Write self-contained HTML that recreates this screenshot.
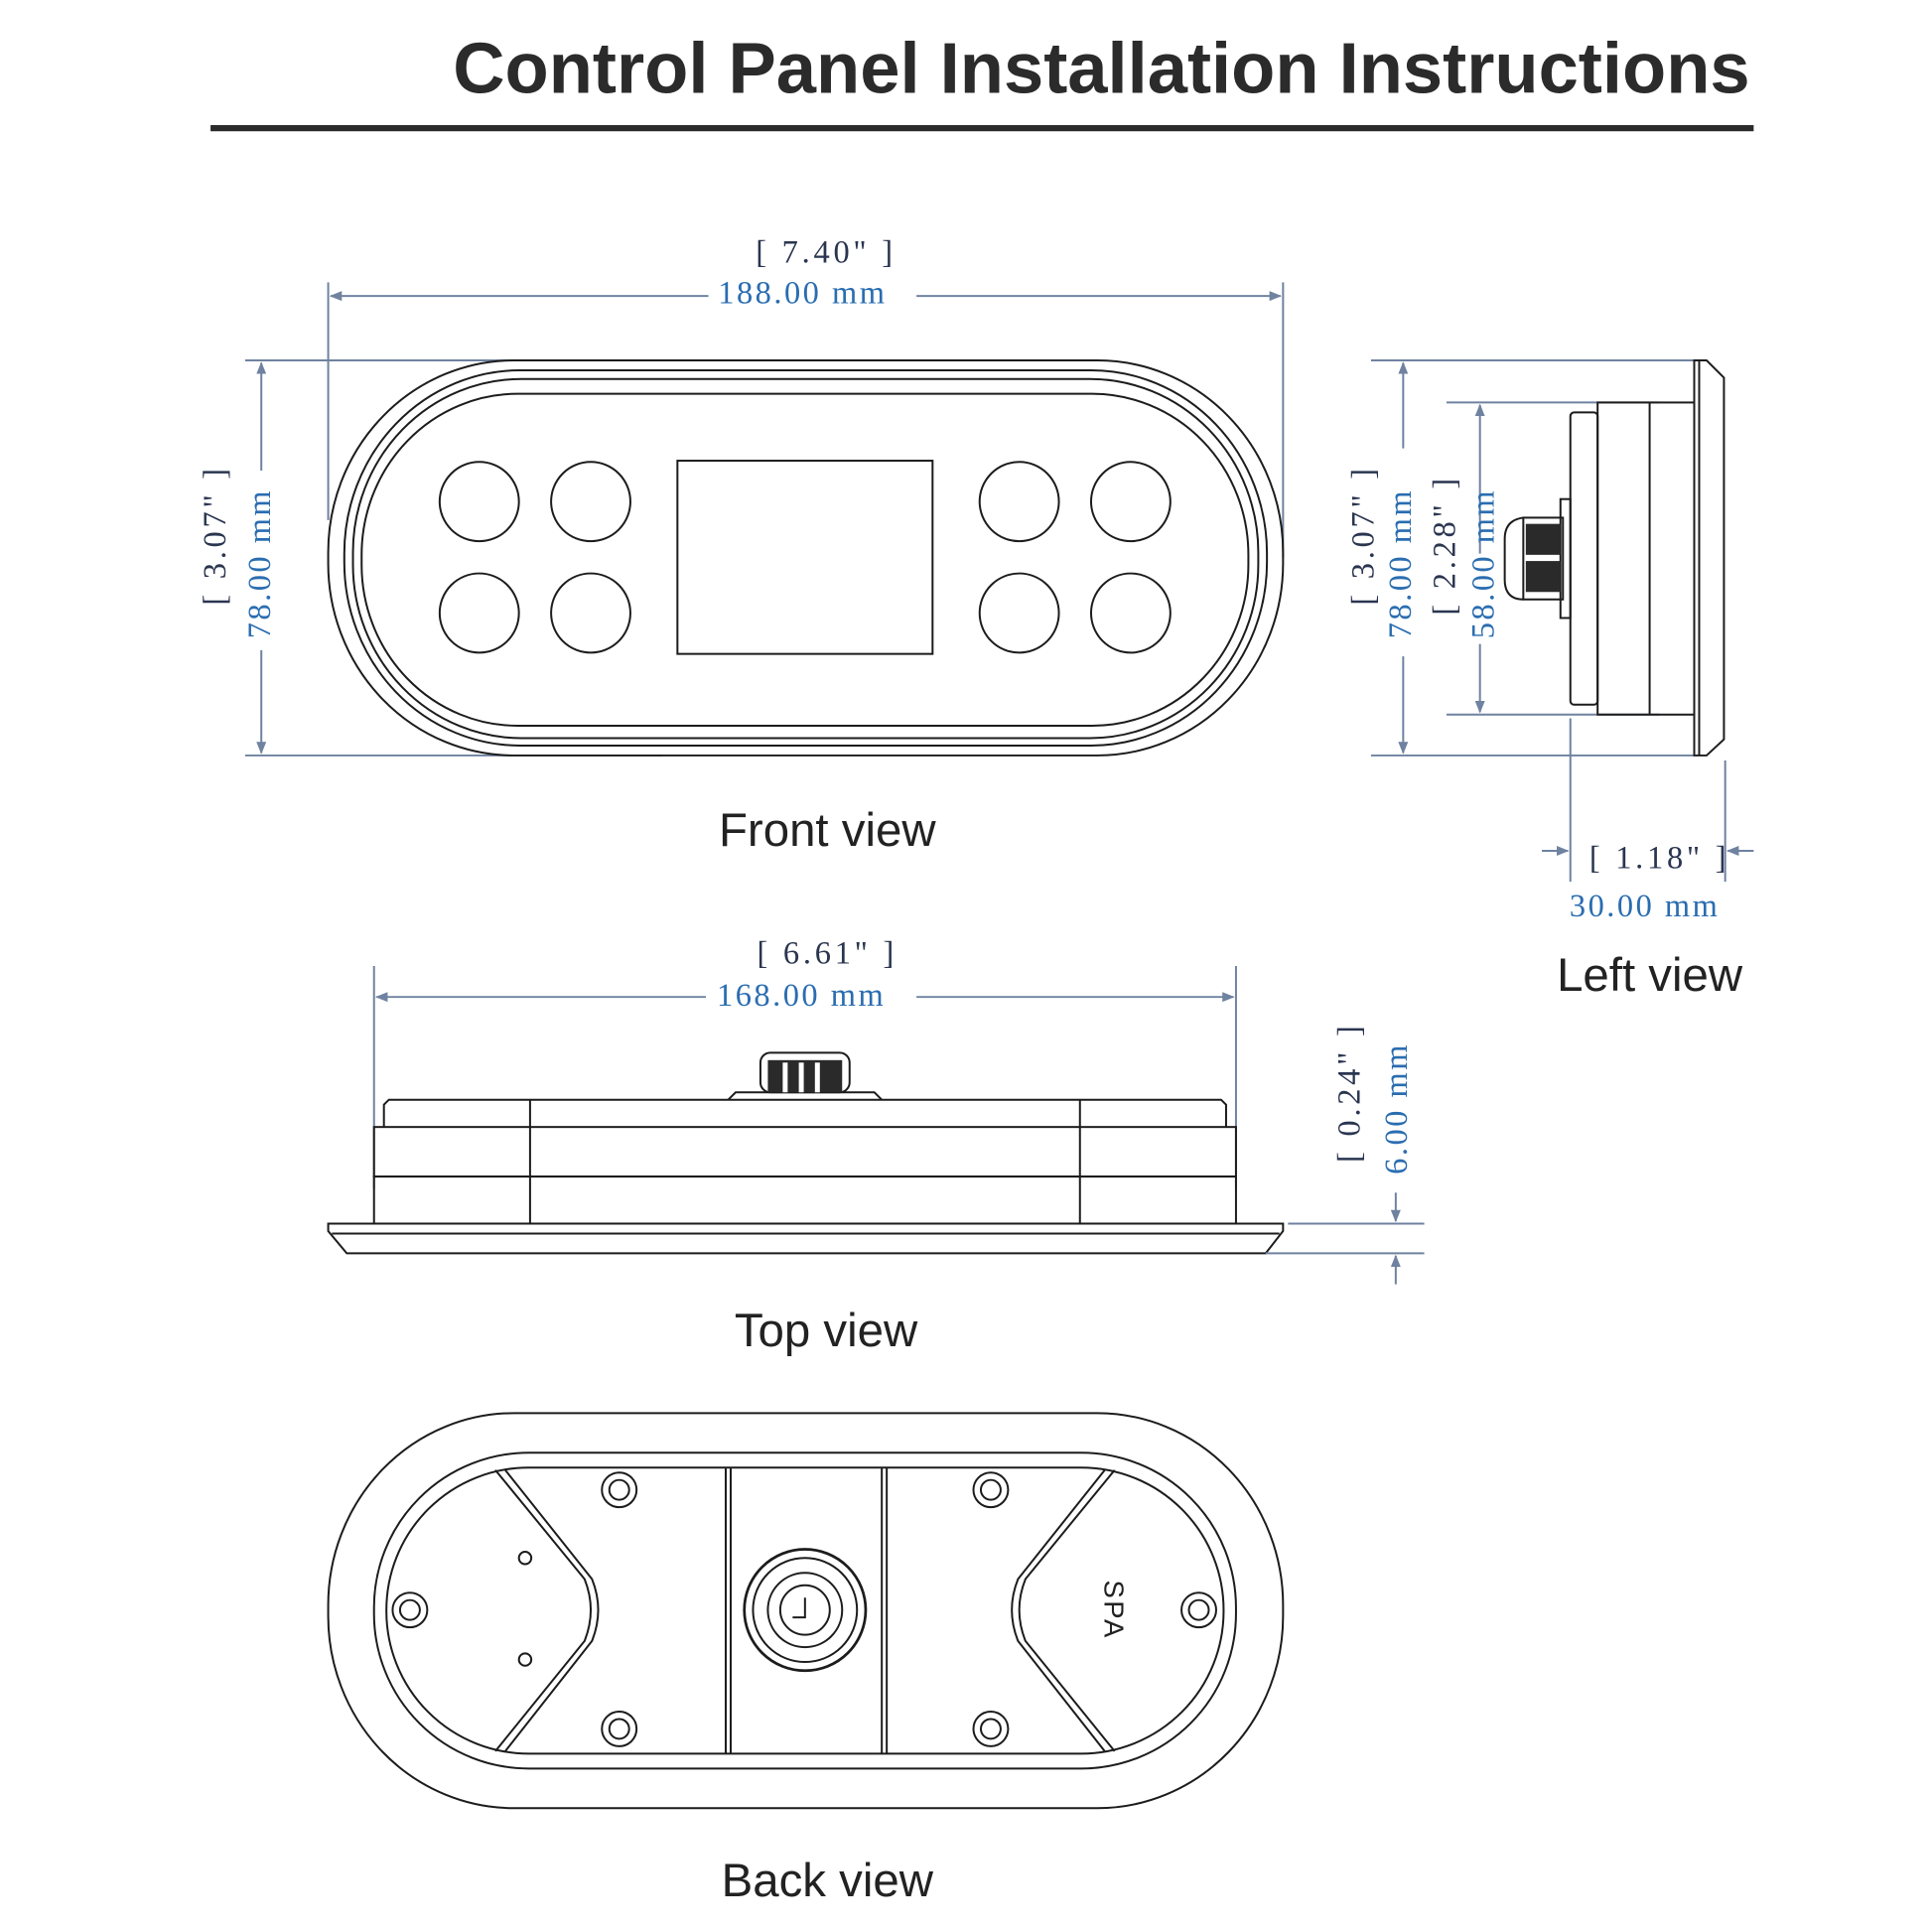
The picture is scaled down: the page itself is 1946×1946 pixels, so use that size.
<!DOCTYPE html>
<html><head><meta charset="utf-8"><style>
html,body{margin:0;padding:0;background:#fff}
svg{display:block}
.d{stroke:#6f82a0;stroke-width:1.6;fill:none}
.k{stroke:#1c1c1c;stroke-width:1.6;fill:none}
.t{font-family:"Liberation Serif",serif;font-size:26px;fill:#2a3550;letter-spacing:3px}
.b{font-family:"Liberation Serif",serif;font-size:26px;fill:#2a6db0;letter-spacing:2px}
.v{font-family:"Liberation Sans",sans-serif;font-size:38px;fill:#222}
</style></head><body>
<svg width="1946" height="1946" viewBox="0 0 1560 1560" xmlns="http://www.w3.org/2000/svg">
<defs><marker id="a" markerWidth="10" markerHeight="8" refX="9" refY="4" orient="auto" markerUnits="userSpaceOnUse"><path d="M0,0 L10,4 L0,8 z" fill="#6f82a0"/></marker></defs>
<text x="1413" y="75" text-anchor="end" style="font-family:'Liberation Sans',sans-serif;font-weight:bold;font-size:58px;fill:#2b2b2b">Control Panel Installation Instructions</text>
<rect x="170" y="101" width="1246" height="5" fill="#2b2b2b"/>

<!-- FRONT VIEW -->
<line class="d" x1="265" y1="228" x2="265" y2="420"/><line class="d" x1="1036" y1="228" x2="1036" y2="450"/>
<line class="d" x1="572" y1="239" x2="267" y2="239" marker-end="url(#a)"/><line class="d" x1="740" y1="239" x2="1034" y2="239" marker-end="url(#a)"/>
<text class="t" x="667" y="212" text-anchor="middle">[ 7.40" ]</text>
<text class="b" x="648" y="245" text-anchor="middle">188.00 mm</text>
<line class="d" x1="198" y1="291" x2="535" y2="291"/><line class="d" x1="198" y1="610" x2="535" y2="610"/>
<line class="d" x1="211" y1="380" x2="211" y2="293" marker-end="url(#a)"/><line class="d" x1="211" y1="525" x2="211" y2="608" marker-end="url(#a)"/>
<text class="t" transform="translate(182,432) rotate(-90)" text-anchor="middle">[ 3.07" ]</text>
<text class="b" transform="translate(218,455) rotate(-90)" text-anchor="middle">78.00 mm</text>
<rect class="k" x="265" y="291" width="771" height="319" rx="150" ry="155" stroke-width="2"/>
<rect class="k" x="278" y="299" width="745" height="303" rx="142" ry="148"/>
<rect class="k" x="285" y="306" width="731" height="290" rx="136" ry="140"/>
<rect class="k" x="292" y="318" width="716" height="268" rx="126" ry="130"/>
<g class="k"><circle cx="387" cy="405" r="32"/><circle cx="477" cy="405" r="32"/><circle cx="387" cy="495" r="32"/><circle cx="477" cy="495" r="32"/><circle cx="823" cy="405" r="32"/><circle cx="913" cy="405" r="32"/><circle cx="823" cy="495" r="32"/><circle cx="913" cy="495" r="32"/></g>
<rect class="k" x="547" y="372" width="206" height="156"/>
<text class="v" x="668" y="683" text-anchor="middle">Front view</text>

<!-- LEFT VIEW -->
<line class="d" x1="1107" y1="291" x2="1368" y2="291"/><line class="d" x1="1107" y1="610" x2="1368" y2="610"/>
<line class="d" x1="1168" y1="325" x2="1340" y2="325"/><line class="d" x1="1168" y1="577" x2="1340" y2="577"/>
<line class="d" x1="1133" y1="362" x2="1133" y2="293" marker-end="url(#a)"/><line class="d" x1="1133" y1="530" x2="1133" y2="608" marker-end="url(#a)"/>
<line class="d" x1="1195" y1="447" x2="1195" y2="327" marker-end="url(#a)"/><line class="d" x1="1195" y1="520" x2="1195" y2="575" marker-end="url(#a)"/>
<text class="t" transform="translate(1109,432) rotate(-90)" text-anchor="middle">[ 3.07" ]</text>
<text class="b" transform="translate(1139,455) rotate(-90)" text-anchor="middle">78.00 mm</text>
<text class="t" transform="translate(1175,440) rotate(-90)" text-anchor="middle">[ 2.28" ]</text>
<text class="b" transform="translate(1206,455) rotate(-90)" text-anchor="middle">58.00 mm</text>
<path class="k" d="M1368,291 L1378,291 L1392,305 L1392,597 L1378,610 L1368,610 Z"/>
<line class="k" x1="1372" y1="291" x2="1372" y2="610"/>
<rect class="k" x="1290" y="325" width="78" height="252"/>
<line class="k" x1="1332" y1="325" x2="1332" y2="577"/>
<rect class="k" x="1268" y="333" width="22" height="236" rx="3"/>
<rect class="k" x="1260" y="403" width="8" height="96"/>
<rect class="k" x="1230" y="418" width="32" height="66" fill="#fff"/>
<rect x="1232" y="423" width="28" height="25" fill="#2a2a2a"/><rect x="1232" y="453" width="28" height="25" fill="#2a2a2a"/>
<path class="k" d="M1230,418 Q1215,420 1215,435 L1215,468 Q1215,484 1230,484"/>
<line class="d" x1="1268" y1="580" x2="1268" y2="712"/><line class="d" x1="1393" y1="614" x2="1393" y2="712"/>
<line class="d" x1="1245" y1="687" x2="1266" y2="687" marker-end="url(#a)"/><line class="d" x1="1416" y1="687" x2="1395" y2="687" marker-end="url(#a)"/>
<text class="t" x="1340" y="701" text-anchor="middle">[ 1.18" ]</text>
<text class="b" x="1328" y="740" text-anchor="middle">30.00 mm</text>
<text class="v" x="1332" y="800" text-anchor="middle">Left view</text>

<!-- TOP VIEW -->
<line class="d" x1="302" y1="780" x2="302" y2="960"/><line class="d" x1="998" y1="780" x2="998" y2="960"/>
<line class="d" x1="570" y1="805" x2="304" y2="805" marker-end="url(#a)"/><line class="d" x1="740" y1="805" x2="996" y2="805" marker-end="url(#a)"/>
<text class="t" x="668" y="778" text-anchor="middle">[ 6.61" ]</text>
<text class="b" x="647" y="812" text-anchor="middle">168.00 mm</text>
<path class="k" d="M310,910 L310,892 L314,888 L986,888 L990,892 L990,910"/>
<rect class="k" x="302" y="910" width="696" height="40"/>
<rect class="k" x="302" y="950" width="696" height="38"/>
<line class="k" x1="428" y1="888" x2="428" y2="988"/><line class="k" x1="872" y1="888" x2="872" y2="988"/>
<path class="k" d="M265,988 L1036,988 L1036,994 L1022,1012 L280,1012 L265,994 Z" stroke-width="2"/>
<line class="k" x1="268" y1="996" x2="1033" y2="996"/>
<path class="k" d="M588,888 L594,882 L706,882 L712,888"/>
<rect class="k" x="614" y="850" width="72" height="32" rx="8"/>
<rect x="620" y="856" width="60" height="26" fill="#2a2a2a"/>
<rect x="632" y="858" width="4" height="24" fill="#fff"/><rect x="645" y="858" width="4" height="24" fill="#fff"/><rect x="658" y="858" width="4" height="24" fill="#fff"/>
<line class="d" x1="1040" y1="988" x2="1150" y2="988"/><line class="d" x1="1022" y1="1012" x2="1150" y2="1012"/>
<line class="d" x1="1127" y1="963" x2="1127" y2="986" marker-end="url(#a)"/><line class="d" x1="1127" y1="1037" x2="1127" y2="1014" marker-end="url(#a)"/>
<text class="t" transform="translate(1098,882) rotate(-90)" text-anchor="middle">[ 0.24" ]</text>
<text class="b" transform="translate(1136,895) rotate(-90)" text-anchor="middle">6.00 mm</text>
<text class="v" x="667" y="1087" text-anchor="middle">Top view</text>

<!-- BACK VIEW -->
<rect class="k" x="265" y="1141" width="771" height="319" rx="150" ry="155" stroke-width="2.2"/>
<rect class="k" x="302" y="1173" width="696" height="255" rx="125" ry="125" stroke-width="2"/>
<rect class="k" x="312" y="1185" width="676" height="231" rx="115" ry="115"/>
<g class="k">
<line x1="586" y1="1185" x2="586" y2="1416"/><line x1="590" y1="1185" x2="590" y2="1416"/>
<line x1="712" y1="1185" x2="712" y2="1416"/><line x1="716" y1="1185" x2="716" y2="1416"/>
<path d="M400,1187 L472,1275 Q482,1300 472,1325 L400,1414"/><path d="M408,1187 L478,1275 Q488,1300 478,1325 L408,1414"/>
<path d="M900,1187 L828,1275 Q818,1300 828,1325 L900,1414"/><path d="M892,1187 L822,1275 Q812,1300 822,1325 L892,1414"/>
<circle cx="500" cy="1203" r="14"/><circle cx="500" cy="1203" r="8"/>
<circle cx="800" cy="1203" r="14"/><circle cx="800" cy="1203" r="8"/>
<circle cx="500" cy="1396" r="14"/><circle cx="500" cy="1396" r="8"/>
<circle cx="800" cy="1396" r="14"/><circle cx="800" cy="1396" r="8"/>
<circle cx="331" cy="1300" r="14"/><circle cx="331" cy="1300" r="8"/>
<circle cx="968" cy="1300" r="14"/><circle cx="968" cy="1300" r="8"/>
<circle cx="424" cy="1258" r="5"/><circle cx="424" cy="1340" r="5"/>
<circle cx="650" cy="1300" r="49" stroke-width="2.2"/><circle cx="650" cy="1300" r="42"/><circle cx="650" cy="1300" r="30"/><circle cx="650" cy="1300" r="20"/>
<path d="M650,1290 L650,1306 L640,1306"/>
</g>
<text transform="translate(892,1300) rotate(90)" text-anchor="middle" style="font-family:'Liberation Sans',sans-serif;font-size:22px;fill:#222;letter-spacing:2px">SPA</text>
<text class="v" x="668" y="1531" text-anchor="middle">Back view</text>
</svg>
</body></html>
